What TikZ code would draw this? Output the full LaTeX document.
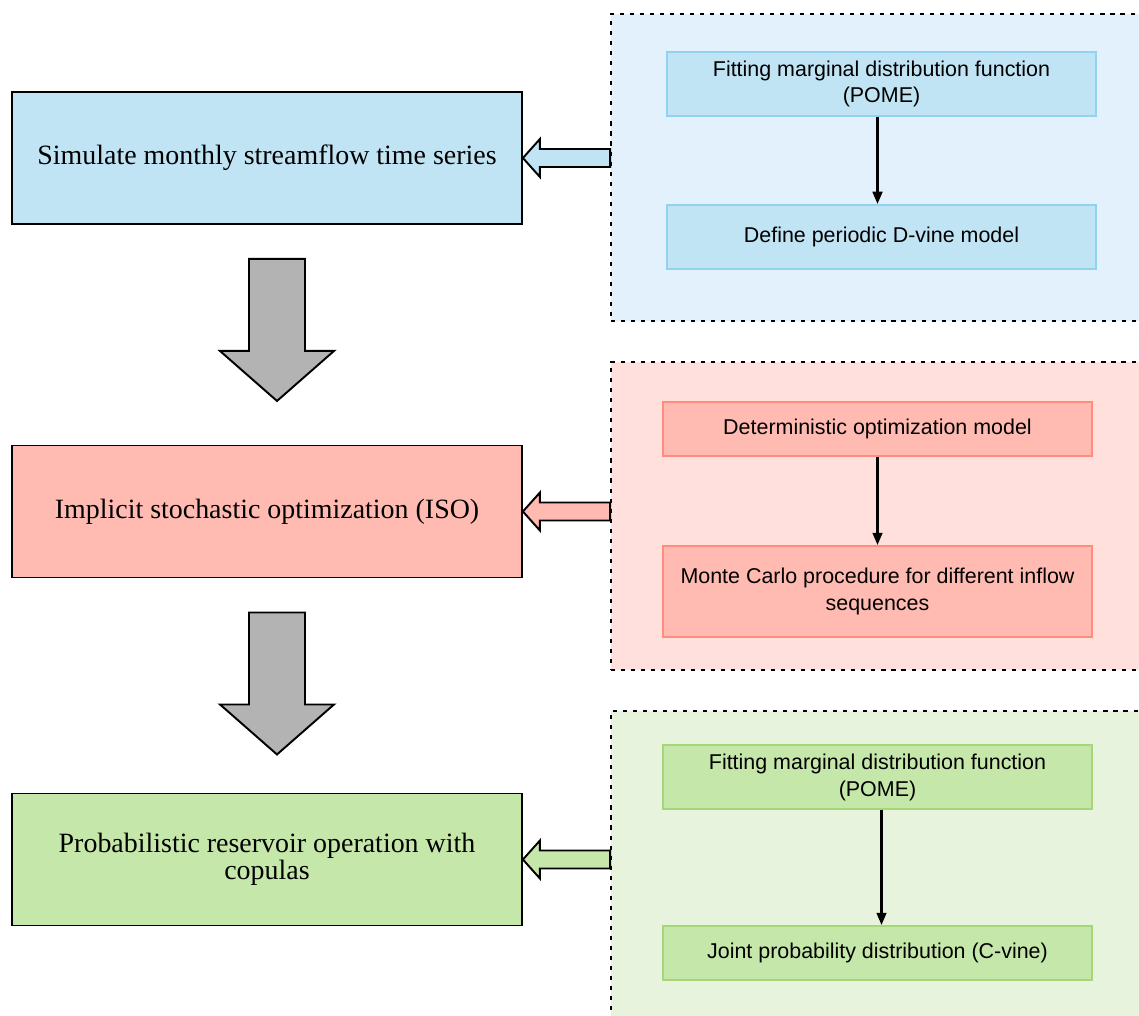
\documentclass[tikz,border=0pt]{standalone}
\usepackage{fontspec}
\setmainfont{Liberation Serif}
\newfontfamily\stepfont{Liberation Sans}
\usetikzlibrary{arrows.meta, calc, positioning}

\definecolor{simfill}{RGB}{193,228,245}
\definecolor{simline}{RGB}{145,210,240}
\definecolor{simback}{RGB}{226,241,251}
\definecolor{isofill}{RGB}{255,187,177}
\definecolor{isoline}{RGB}{255,140,125}
\definecolor{isoback}{RGB}{255,224,220}
\definecolor{probfill}{RGB}{198,231,170}
\definecolor{probline}{RGB}{165,215,120}
\definecolor{probback}{RGB}{231,243,221}
\definecolor{arrowgray}{RGB}{179,179,179}

\tikzset{
  mainbox/.style={draw, line width=1.1pt, minimum width=10.2cm, minimum height=2.64cm,
    inner sep=0pt, align=center, font=\fontsize{15.9}{15.5}\selectfont},
  group/.style={draw, line width=1.1pt, dash pattern=on 2.3pt off 3.4pt,
    minimum width=10.68cm, inner sep=0pt},
  stepbox/.style={draw, line width=1.1pt, minimum width=8.58cm, minimum height=1.28cm,
    inner sep=0pt, align=center, font=\stepfont\fontsize{12.2}{15.3}\selectfont},
  flow/.style={line width=1.4pt, -{Triangle[length=7pt,width=5.5pt]}}
}

% block arrow from a group box to the main box on its left
\newcommand\sidearrow[3]{%
  \draw[line width=1.1pt, fill=#3, line join=miter]
    (#1.east) -- ++(17,-19) -- ++(0,10) -- ($(#2.west |- #1.east)+(0,-9)$)
    -- ($(#2.west |- #1.east)+(0,9)$) -- ($(#1.east)+(17,9)$) -- ++(0,10) -- cycle;}

% big gray arrow between two main boxes
\newcommand\flowarrow[1]{%
  \draw[line width=1.1pt, fill=arrowgray, line join=miter]
    ($(#1.south)+(-18,34)$) -- ++(56,0) -- ++(0,92) -- ++(29,0) -- ++(-57,50)
    -- ++(-57,-50) -- ++(29,0) -- cycle;}

\begin{document}
\begin{tikzpicture}[x=0.02cm, y=-0.02cm]
\useasboundingbox (0,0) rectangle (1139,1015);

% group boxes
\node[group, fill=simback, minimum height=6.14cm] (grpA) at (878,167.5) {};
\node[group, fill=isoback, minimum height=6.16cm] (grpB) at (878,516) {};
\node[group, fill=probback, minimum height=6.2cm] (grpC) at (878,866) {};

% main boxes
\node[mainbox, fill=simfill] (sim) at (267,158) {Simulate monthly streamflow time series};
\node[mainbox, fill=isofill] (iso) at (267,511.5) {Implicit stochastic optimization (ISO)};
\node[mainbox, fill=probfill] (prob) at (267,859.5) {Probabilistic reservoir operation with\\copulas};

% steps
\node[stepbox, fill=simfill, draw=simline] (fit1) at (881.5,84) {Fitting marginal distribution function\\(POME)};
\node[stepbox, fill=simfill, draw=simline] (dvine) at (881.5,237) {Define periodic D-vine model};
\node[stepbox, fill=isofill, draw=isoline, minimum height=1.08cm] (det) at (877.5,429) {Deterministic optimization model};
\node[stepbox, fill=isofill, draw=isoline, minimum height=1.82cm] (mc) at (877.5,591.5) {Monte Carlo procedure for different inflow\\sequences};
\node[stepbox, fill=probfill, draw=probline] (fit2) at (877.5,777) {Fitting marginal distribution function\\(POME)};
\node[stepbox, fill=probfill, draw=probline, minimum height=1.08cm] (cvine) at (877.5,953) {Joint probability distribution (C-vine)};

\draw[flow] ($(fit1.south)+(-4,0)$) -- ($(dvine.north)+(-4,0)$);
\draw[flow] (det) -- (mc);
\draw[flow] ($(fit2.south)+(4,0)$) -- ($(cvine.north)+(4,0)$);

\sidearrow{sim}{grpA}{simfill}
\sidearrow{iso}{grpB}{isofill}
\sidearrow{prob}{grpC}{probfill}

\flowarrow{sim}
\flowarrow{iso}
\end{tikzpicture}
\end{document}
